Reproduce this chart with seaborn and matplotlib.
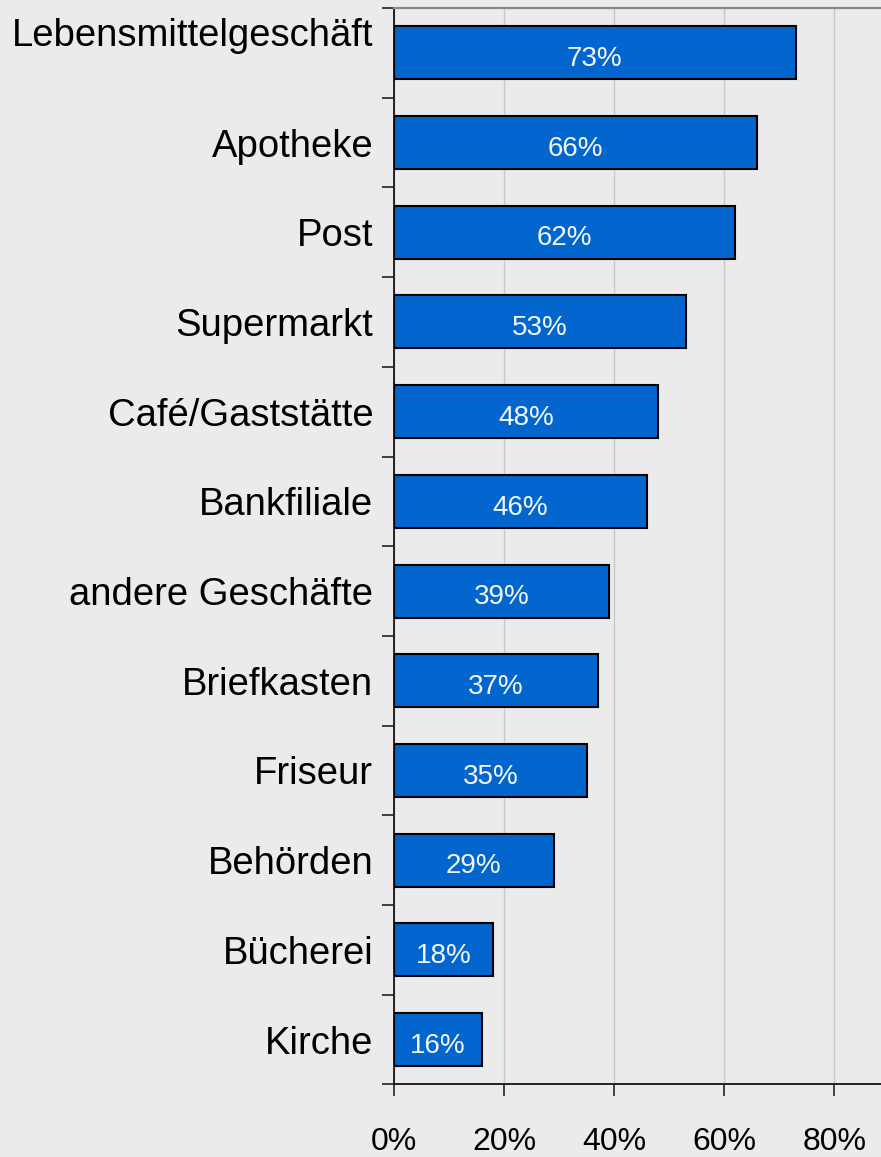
import matplotlib
matplotlib.use("Agg")
import matplotlib.pyplot as plt
import matplotlib.transforms as mtransforms
from matplotlib.ticker import FixedLocator, FuncFormatter
import seaborn as sns
import pandas as pd

categories = ["Lebensmittelgeschäft", "Apotheke", "Post", "Supermarkt",
              "Café/Gaststätte", "Bankfiliale", "andere Geschäfte",
              "Briefkasten", "Friseur", "Behörden", "Bücherei", "Kirche"]
values = [73, 66, 62, 53, 48, 46, 39, 37, 35, 29, 18, 16]
x_ticks = [0, 20, 40, 60, 80]

df = pd.DataFrame({"Ort": categories, "Anteil": values})

sns.set_theme(style="white")
plt.rcParams["font.family"] = ["Liberation Sans", "DejaVu Sans"]

bg = "#ebebeb"
fig = plt.figure(figsize=(8.81, 11.57), dpi=100, facecolor=bg)
ax = fig.add_axes([0.4472, 0.0627, 0.5528, 0.9304])
ax.set_facecolor(bg)

sns.barplot(data=df, y="Ort", x="Anteil", orient="h", color="#0366ce",
            saturation=1, width=0.59, edgecolor="black", linewidth=1.5,
            ax=ax, zorder=3)

ax.set_xlim(0, 88.5)
ax.set_ylim(len(categories) - 0.5, -0.5)
ax.set_xlabel("")
ax.set_ylabel("")

# value labels inside the bars, nudged slightly downward
label_shift = ax.transData + mtransforms.ScaledTranslation(0, -4.5 / 72, fig.dpi_scale_trans)
for i, v in enumerate(values):
    ax.text(v / 2, i, f"{v}%", ha="center", va="center", color="#f4f6fb",
            fontsize=20, transform=label_shift, zorder=4)

# x axis
ax.xaxis.set_major_locator(FixedLocator(x_ticks))
ax.xaxis.set_major_formatter(FuncFormatter(lambda x, _: f"{x:.0f}%"))
ax.tick_params(axis="x", which="major", direction="out", length=8.6, width=1.2,
               color="#222222", pad=22, labelsize=23, labelcolor="black",
               bottom=True)
ax.grid(axis="x", color="#c8c8c8", linewidth=1.0, zorder=0)
ax.set_axisbelow(True)

# y axis: category labels, ticks between bars
ax.tick_params(axis="y", which="major", length=0, pad=15, labelsize=27.5,
               labelcolor="black")
ax.yaxis.set_minor_locator(FixedLocator([i - 0.5 for i in range(len(categories) + 1)]))
ax.tick_params(axis="y", which="minor", direction="out", length=8.6, width=1.2,
               color="#222222", left=True)

first = ax.get_yticklabels()[0]
first.set_transform(first.get_transform() +
                    mtransforms.ScaledTranslation(0, 15 / 72, fig.dpi_scale_trans))

for side in ["left", "bottom"]:
    ax.spines[side].set_color("#222222")
    ax.spines[side].set_linewidth(1.4)
ax.spines["top"].set_color("#888888")
ax.spines["top"].set_linewidth(1.6)
ax.spines["right"].set_visible(False)

fig.savefig("out.png", dpi=100, facecolor=bg)
